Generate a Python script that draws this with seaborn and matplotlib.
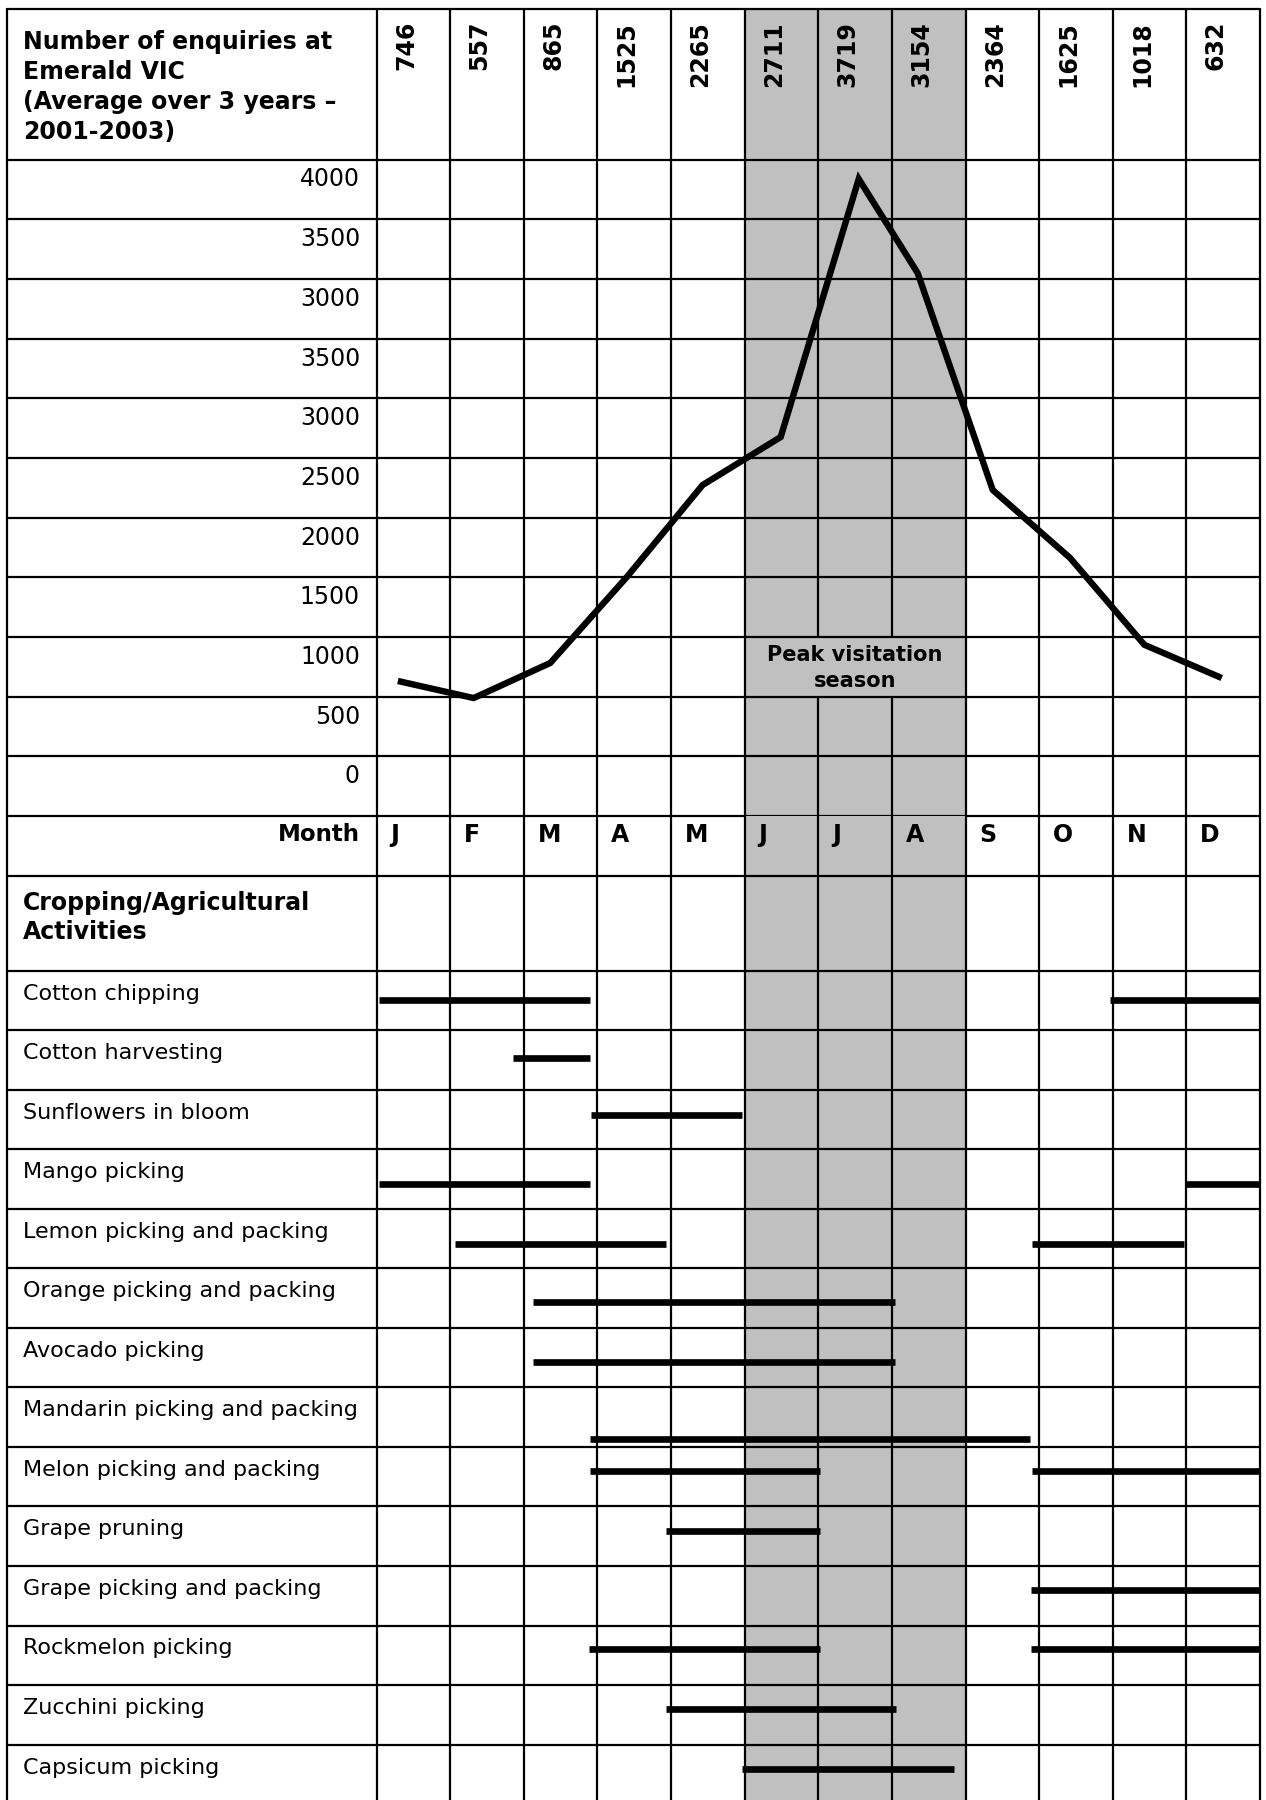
import matplotlib
matplotlib.use("Agg")
import matplotlib.pyplot as plt
import seaborn as sns
import numpy as np
import pandas as pd

# ---------------- data ----------------
month_letters = ["J", "F", "M", "A", "M", "J", "J", "A", "S", "O", "N", "D"]
enquiries = [746, 557, 865, 1525, 2265, 2711, 3719, 3154, 2364, 1625, 1018, 632]
# where each month's vertex of the drawn line sits:
# month position (0 = start of January, 12 = end of December) and height (axis units)
line_month_pos = [0.29, 1.32, 2.36, 3.40, 4.43, 5.49, 6.55, 7.35, 8.37, 9.42, 10.43, 11.48]
plotted_level = [631, 488, 782, 1502, 2273, 2675, 4837, 4049, 2231, 1662, 934, 656]
y_tick_labels = ["4000", "3500", "3000", "3500", "3000", "2500",
                 "2000", "1500", "1000", "500", "0"]
activities = ["Cotton chipping", "Cotton harvesting", "Sunflowers in bloom",
              "Mango picking", "Lemon picking and packing",
              "Orange picking and packing", "Avocado picking",
              "Mandarin picking and packing", "Melon picking and packing",
              "Grape pruning", "Grape picking and packing",
              "Rockmelon picking", "Zucchini picking", "Capsicum picking"]
# periods in months counted from the start of January (0) to end of December (12)
activity_periods = [
    [(0.03, 2.90), (9.96, 12.0)],
    [(1.85, 2.90)],
    [(2.91, 4.97)],
    [(0.03, 2.90), (11.0, 12.0)],
    [(1.07, 3.93), (8.90, 10.97)],
    [(2.12, 7.04)],
    [(2.12, 7.04)],
    [(2.90, 8.88)],
    [(2.90, 6.03), (8.90, 12.0)],
    [(3.93, 6.03)],
    [(8.89, 12.0)],
    [(2.89, 6.03), (8.89, 12.0)],
    [(3.93, 7.06)],
    [(4.96, 7.85)],
]
peak_months = (5, 8)
header_lines = ["Number of enquiries at", "Emerald VIC",
                "(Average over 3 years \u2013", "2001-2003)"]
crop_header_lines = ["Cropping/Agricultural", "Activities"]
peak_lines = ["Peak visitation", "season"]

# ---------------- layout (pixels) ----------------
W, H, DPI = 1266, 1800, 100
X_LEFT, X_DIV, X_RIGHT = 7.0, 376.5, 1260.0
COL = (X_RIGHT - X_DIV) / 12
Y_TOP, Y_HEAD = 9.0, 159.5
ROW = 59.68
Y_MONTH = Y_HEAD + 11 * ROW
Y_CROP = Y_MONTH + 60
Y_ACT = 971.0
ACT_ROW = 59.5
# vertical position of each activity bar inside its row (fraction of row)
bar_offset = [0.49, 0.47, 0.42, 0.58, 0.58, 0.57, 0.57, 0.87,
              0.40, 0.41, 0.40, 0.40, 0.40, 0.42]

GRID_LW = 1.6
LINE_LW = 4.6
BAR_LW = 4.8
SHADE = "#c0c0c0"
FAM = ["DejaVu Sans"]


def px2x(px):
    return (px - X_DIV) / COL


XMIN = px2x(X_LEFT)

sns.set_theme(style="white")
plt.rcParams["font.family"] = FAM

fig = plt.figure(figsize=(W / DPI, H / DPI), dpi=DPI)
fig.patch.set_facecolor("white")


def make_ax(top, bottom):
    ax = fig.add_axes([X_LEFT / W, 1 - bottom / H, (X_RIGHT - X_LEFT) / W, (bottom - top) / H])
    ax.set_xlim(XMIN, 12)
    ax.set_axis_off()
    ax.patch.set_alpha(0)
    return ax


# ---------- header ----------
ax_h = make_ax(Y_TOP, Y_HEAD)
ax_h.set_ylim(Y_HEAD, Y_TOP)
ax_h.axvspan(*peak_months, color=SHADE, lw=0, zorder=0)
ax_h.axhline(Y_TOP, color="black", lw=GRID_LW, clip_on=False, zorder=2)
for xv in [XMIN] + list(range(13)):
    ax_h.axvline(xv, color="black", lw=GRID_LW, clip_on=False, zorder=2)
for i, line in enumerate(header_lines):
    ax_h.text(px2x(23), 42 + 30 * i, line, ha="left", va="center",
              fontsize=17, fontweight="bold", color="black")
for i, v in enumerate(enquiries):
    ax_h.text(i + 0.40, 21, str(v), rotation=90, ha="center", va="top",
              fontsize=17, fontweight="bold", color="black")

# ---------- line chart ----------
ax_l = make_ax(Y_HEAD, Y_MONTH)
ax_l.set_ylim(-500, 5000)
ax_l.axvspan(*peak_months, color=SHADE, lw=0, zorder=0)
for yv in np.arange(-500, 5001, 500):
    ax_l.axhline(yv, color="black", lw=GRID_LW, clip_on=False, zorder=2)
peak_row = (500, 1000)
for xv in [XMIN] + list(range(13)):
    if peak_months[0] < xv < peak_months[1]:
        ax_l.vlines(xv, peak_row[1], 5000, color="black", lw=GRID_LW, zorder=2)
        ax_l.vlines(xv, -500, peak_row[0], color="black", lw=GRID_LW, zorder=2)
    else:
        ax_l.axvline(xv, color="black", lw=GRID_LW, clip_on=False, zorder=2)

df = pd.DataFrame({"month": line_month_pos, "level": plotted_level})
sns.lineplot(data=df, x="month", y="level", ax=ax_l, color="black",
             lw=LINE_LW, zorder=5, sort=False)
ax_l.lines[-1].set_solid_joinstyle("miter")
ax_l.lines[-1].set_solid_capstyle("butt")
ax_l.set_axis_off()
ax_l.set_xlim(XMIN, 12)
ax_l.set_ylim(-500, 5000)

units_per_px = 500 / ROW
for k, lab in enumerate(y_tick_labels):
    ax_l.text(px2x(360), 5000 - 500 * k - 20 * units_per_px, lab,
              ha="right", va="center", fontsize=17, color="black")
pc = sum(peak_row) / 2
for j, line in enumerate(peak_lines):
    ax_l.text(sum(peak_months) / 2, pc + (0.5 - j) * 26 * units_per_px - 1 * units_per_px, line,
              ha="center", va="center", fontsize=15, fontweight="bold", color="black")

# ---------- month row, cropping header, activities ----------
ax_b = make_ax(Y_MONTH, H)
ax_b.set_ylim(H, Y_MONTH)
ax_b.axvspan(*peak_months, color=SHADE, lw=0, zorder=0)
for xv in [XMIN] + list(range(13)):
    ax_b.axvline(xv, color="black", lw=GRID_LW, clip_on=False, zorder=2)
row_tops = [Y_CROP] + [Y_ACT + i * ACT_ROW for i in range(len(activities))]
for yv in row_tops:
    ax_b.axhline(yv, color="black", lw=GRID_LW, zorder=2)

ax_b.text(px2x(360), Y_MONTH + 19, "Month", ha="right", va="center",
          fontsize=16.5, fontweight="bold", color="black")
for i, m in enumerate(month_letters):
    ax_b.text(i + 14 / COL, Y_MONTH + 19, m, ha="left", va="center",
              fontsize=17, fontweight="bold", color="black")
for j, line in enumerate(crop_header_lines):
    ax_b.text(px2x(23), Y_CROP + 27 + 29 * j, line, ha="left", va="center",
              fontsize=17, fontweight="bold", color="black")

for i, (name, periods) in enumerate(zip(activities, activity_periods)):
    top = Y_ACT + i * ACT_ROW
    ax_b.text(px2x(23), top + 23, name, ha="left", va="center",
              fontsize=16, color="black")
    yb = top + bar_offset[i] * ACT_ROW
    for s, e in periods:
        ax_b.hlines(yb, s, e, color="black", lw=BAR_LW, zorder=5)

fig.savefig("out.png", dpi=DPI, facecolor="white")
